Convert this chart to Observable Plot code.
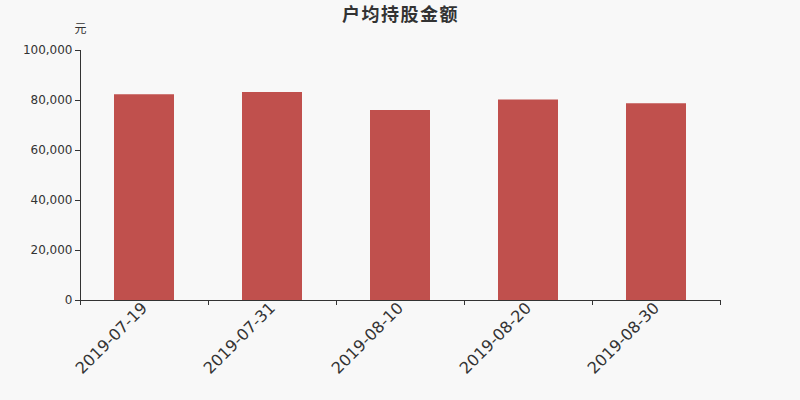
<!DOCTYPE html>
<html><head><meta charset="utf-8">
<script src="https://cdn.jsdelivr.net/npm/d3@7"></script>
<script src="https://cdn.jsdelivr.net/npm/@observablehq/plot@0.6"></script>
<style>
html,body{margin:0;padding:0;background:#f8f8f8;}
#chart svg{display:block;}
</style></head><body><div id="chart"></div>
<script>
const dates = ["2019-07-19","2019-07-31","2019-08-10","2019-08-20","2019-08-30"];
const values = [82300, 83200, 76000, 80200, 78700];
const yTicks = [0, 20000, 40000, 60000, 80000, 100000];
const title = "户均持股金额";
const unit = "元";

const data = dates.map((d, i) => ({i, date: d, value: values[i]}));
const boundaries = d3.range(dates.length + 1);
const centers = dates.map((d, i) => i + 0.5);
const fmt = d3.format(",");

const chart = Plot.plot({
  width: 800, height: 400,
  marginLeft: 80, marginRight: 80, marginTop: 50, marginBottom: 100,
  style: {background: "#f8f8f8", fontFamily: "DejaVu Sans, sans-serif", color: "#333"},
  x: {domain: [0, dates.length], axis: null},
  y: {domain: [0, 100000], axis: null},
  marks: [
    Plot.rectY(data, {x1: "i", x2: d => d.i + 1, y: "value", insetLeft: 34, insetRight: 34, fill: "#c0504d"}),
    Plot.axisY({ticks: yTicks, tickFormat: fmt, tickSize: 5, tickPadding: 3, fontSize: 12, stroke: "#333", fill: "#333", label: null}),
    Plot.frame({anchor: "left", stroke: "#333"}),
    Plot.frame({anchor: "bottom", stroke: "#333"}),
    Plot.axisX({ticks: boundaries, tickFormat: () => "", tickSize: 5, stroke: "#333", label: null}),
    Plot.axisX({ticks: centers, tickFormat: v => dates[Math.floor(v)], tickSize: 0, tickRotate: -45, tickPadding: 5, fontSize: 16, fill: "#333", label: null}),
    Plot.text([title], {frameAnchor: "top", dy: -42, fontSize: 18, fontWeight: "bold", fill: "#333", fontFamily: "Noto Sans CJK SC", className: "ttl"}),
    Plot.text([unit], {frameAnchor: "top-left", dy: -26, fontSize: 12, fill: "#333", textAnchor: "middle", fontFamily: "Noto Sans CJK SC"})
  ]
});
d3.select(chart).selectAll(".ttl text").attr("letter-spacing", "1.5px");
document.getElementById("chart").appendChild(chart);
</script></body></html>
